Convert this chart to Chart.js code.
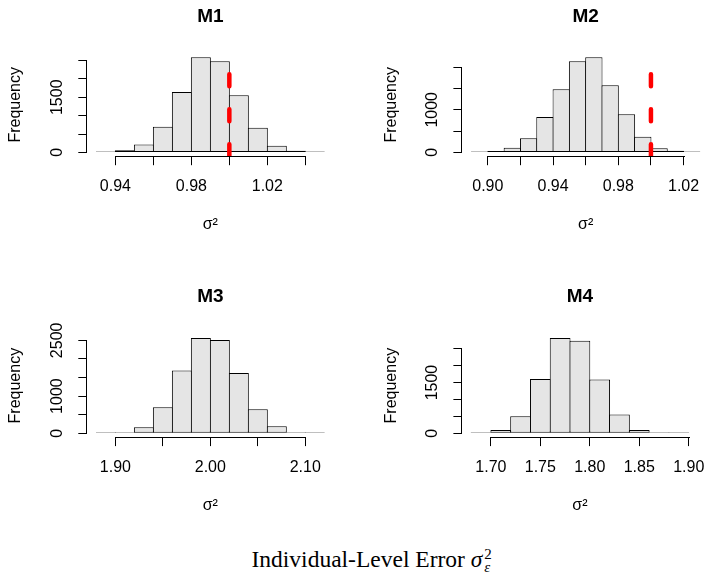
<!DOCTYPE html>
<html>
<head>
<meta charset="utf-8">
<script src="https://cdn.jsdelivr.net/npm/chart.js@4.4.1/dist/chart.umd.min.js"></script>
<style>
  html, body { margin: 0; padding: 0; background: #fff; }
  body { width: 717px; height: 578px; position: relative; overflow: hidden; }
  canvas { position: absolute; }
  #caption {
    position: absolute; left: 251.5px; top: 547.8px;
    font-family: 'Liberation Serif', 'Times New Roman', serif;
    font-size: 23.5px; line-height: 23.5px; white-space: nowrap; color: #000;
  }
  #caption .sym { font-style: italic; }
  #caption .ss {
    display: inline-flex; flex-direction: column; font-size: 15px; line-height: 13px;
    vertical-align: 8px; margin-left: 2px;
  }
  #caption .ss i { font-style: italic; }
</style>
</head>
<body>
<canvas id="m1" width="358" height="280" style="left:0;top:0"></canvas>
<canvas id="m2" width="342" height="280" style="left:375px;top:0"></canvas>
<canvas id="m3" width="358" height="260" style="left:0;top:280px"></canvas>
<canvas id="m4" width="342" height="260" style="left:375px;top:280px"></canvas>
<div id="caption">Individual-Level Error <span class="sym">σ</span><span class="ss"><span>2</span><i>ε</i></span></div>

<script>
/* Four posterior histograms of the individual-level error variance */

// ── Data ────────────────────────────────────────────────────
const m1Breaks  = [0.93, 0.94, 0.95, 0.96, 0.97, 0.98, 0.99, 1.00, 1.01, 1.02, 1.03, 1.04, 1.05];
const m1Counts  = [5, 55, 218, 700, 1645, 2590, 2482, 1555, 673, 182, 45, 15];
const m1XTicks  = [0.94, 0.96, 0.98, 1.00, 1.02, 1.04];
const m1XLabels = ['0.94', '0.98', '1.02'];
const m1YTicks  = [0, 500, 1000, 1500, 2000, 2500];
const m1YLabels = ['0', '1500'];
const m1TrueVal = [1.00];

const m2Breaks  = [0.89, 0.90, 0.91, 0.92, 0.93, 0.94, 0.95, 0.96, 0.97, 0.98, 0.99, 1.00, 1.01, 1.02, 1.03];
const m2Counts  = [15, 30, 110, 330, 830, 1480, 2140, 2235, 1575, 895, 370, 100, 40, 15];
const m2XTicks  = [0.90, 0.92, 0.94, 0.96, 0.98, 1.00, 1.02];
const m2XLabels = ['0.90', '0.94', '0.98', '1.02'];
const m2YTicks  = [0, 500, 1000, 1500, 2000];
const m2YLabels = ['0', '1000'];
const m2TrueVal = [1.00];

const m3Breaks  = [1.88, 1.90, 1.92, 1.94, 1.96, 1.98, 2.00, 2.02, 2.04, 2.06, 2.08, 2.10, 2.12];
const m3Counts  = [3, 18, 162, 700, 1690, 2563, 2509, 1619, 647, 189, 27, 9];
const m3XTicks  = [1.90, 1.95, 2.00, 2.05, 2.10];
const m3XLabels = ['1.90', '2.00', '2.10'];
const m3YTicks  = [0, 500, 1000, 1500, 2000, 2500];
const m3YLabels = ['0', '1000', '2500'];
const m3TrueVal = [];

const m4Breaks  = [1.68, 1.70, 1.72, 1.74, 1.76, 1.78, 1.80, 1.82, 1.84, 1.86, 1.88, 1.90];
const m4Counts  = [20, 99, 504, 1601, 2816, 2737, 1591, 553, 99, 30, 10];
const m4XTicks  = [1.70, 1.75, 1.80, 1.85, 1.90];
const m4XLabels = ['1.70', '1.75', '1.80', '1.85', '1.90'];
const m4YTicks  = [0, 500, 1000, 1500, 2000, 2500];
const m4YLabels = ['0', '1500'];
const m4TrueVal = [];

// ── Layout (page pixels) ────────────────────────────────────
const Y_AXIS_W   = 87.3;   // room left of the plot box inside each canvas
const X_AXIS_H   = 77.6;   // room below the plot box (ticks, labels, σ²)
const TITLE_GAP  = 37;     // title centre above plot top
const FONT       = "'Liberation Sans', Arial, sans-serif";

Chart.defaults.font.family = FONT;
Chart.defaults.color = '#000';

function histogram(id, title, canvasBox, plotBox, breaks, counts, xTicks, xLabels, yTicks, yLabels, trueVal) {
  const lo = breaks[0], hi = breaks[breaks.length - 1];
  const xPad = (hi - lo) * 0.04;
  const top = Math.max(...counts);
  const xMin = lo - xPad, xMax = hi + xPad;
  const yMin = -0.04 * top, yMax = 1.04 * top;

  // plot box relative to its canvas
  const l = plotBox.left - canvasBox.x, r = plotBox.right - canvasBox.x;
  const t = plotBox.top - canvasBox.y,  b = plotBox.bottom - canvasBox.y;
  const titleLH = 19 * 1.2;
  const titlePadTop = t - TITLE_GAP - titleLH / 2;
  const titlePadBottom = t - titleLH - titlePadTop;

  // bars overlap 1px so neighbours share a single outline like R's rect()
  const binPx = (r - l) / (xMax - xMin) * (breaks[1] - breaks[0]);

  const bars = counts.map((c, i) => ({ x: (breaks[i] + breaks[i + 1]) / 2, y: c }));

  const rAxes = {
    id: 'rAxes_' + id,
    afterDatasetsDraw(chart) {
      const { ctx, chartArea: a } = chart;
      const xs = chart.scales.x;
      ctx.save();
      ctx.beginPath();
      ctx.rect(a.left, a.top, a.right - a.left, a.bottom - a.top);
      ctx.clip();
      ctx.strokeStyle = '#FF0000';
      ctx.lineWidth = 4.5;
      ctx.lineCap = 'round';
      ctx.setLineDash([12, 23]);
      trueVal.forEach(v => {
        const px = xs.getPixelForValue(v);
        ctx.beginPath();
        ctx.moveTo(px, a.bottom);
        ctx.lineTo(px, a.top);
        ctx.stroke();
      });
      ctx.restore();
    },
    afterDraw(chart) {
      const { ctx, chartArea: a } = chart;
      const xs = chart.scales.x, ys = chart.scales.y;
      ctx.save();
      ctx.strokeStyle = '#000';
      ctx.lineWidth = 1;
      // R style axis lines: only between first and last tick
      const yb = Math.round(a.bottom) + 0.5;
      ctx.beginPath();
      ctx.moveTo(Math.round(xs.getPixelForValue(xTicks[0])), yb);
      ctx.lineTo(Math.round(xs.getPixelForValue(xTicks[xTicks.length - 1])) + 1, yb);
      const xl = Math.round(a.left) - 0.5;
      ctx.moveTo(xl, Math.round(ys.getPixelForValue(yTicks[yTicks.length - 1])));
      ctx.lineTo(xl, Math.round(ys.getPixelForValue(yTicks[0])) + 1);
      ctx.stroke();
      // rotated y tick labels
      ctx.fillStyle = '#000';
      ctx.font = '16px ' + FONT;
      ctx.textAlign = 'center';
      ctx.textBaseline = 'alphabetic';
      yLabels.forEach(s => {
        ctx.save();
        ctx.translate(a.left - 25, ys.getPixelForValue(Number(s)));
        ctx.rotate(-Math.PI / 2);
        ctx.fillText(s, 0, 0);
        ctx.restore();
      });
      ctx.restore();
    }
  };

  return new Chart(document.getElementById(id), {
    type: 'bar',
    data: {
      datasets: [{
        data: bars,
        backgroundColor: '#E5E5E5',
        borderColor: '#000',
        borderWidth: 1,
        borderSkipped: false,
        categoryPercentage: 1,
        barPercentage: (binPx + 1) / binPx,
        minBarLength: 1,
      }]
    },
    options: {
      responsive: false,
      animation: false,
      devicePixelRatio: 1,
      events: [],
      layout: { padding: { left: l - Y_AXIS_W, top: 0, right: canvasBox.w - r, bottom: canvasBox.h - b - X_AXIS_H } },
      plugins: {
        legend: { display: false },
        tooltip: { enabled: false },
        title: {
          display: true,
          text: title,
          fullSize: false,
          color: '#000',
          font: { family: FONT, size: 19, weight: 'bold' },
          padding: { top: titlePadTop, bottom: titlePadBottom },
        },
      },
      scales: {
        x: {
          type: 'linear',
          min: xMin,
          max: xMax,
          offset: false,
          afterBuildTicks: s => { s.ticks = xTicks.map(v => ({ value: v })); },
          afterFit: s => { s.height = X_AXIS_H; },
          border: { display: false },
          grid: { offset: false, drawOnChartArea: false, drawTicks: true, tickLength: 9, color: '#000', tickColor: '#000' },
          ticks: {
            autoSkip: false, maxRotation: 0, minRotation: 0, padding: 12,
            font: { size: 16 }, color: '#000',
            callback: v => { const s = Number(v).toFixed(2); return xLabels.includes(s) ? s : ''; },
          },
          title: { display: true, text: 'σ²', color: '#000', font: { size: 16 }, padding: { top: 0, bottom: 0 } },
        },
        y: {
          type: 'linear',
          min: yMin,
          max: yMax,
          afterBuildTicks: s => { s.ticks = yTicks.map(v => ({ value: v })); },
          afterFit: s => { s.width = Y_AXIS_W; },
          border: { display: false },
          grid: { drawOnChartArea: false, drawTicks: true, tickLength: 9, color: '#000', tickColor: '#000' },
          ticks: { display: false, autoSkip: false },
          title: { display: true, text: 'Frequency', color: '#000', font: { size: 16 }, padding: { top: 6.4, bottom: 0 } },
        },
      },
    },
    plugins: [rAxes],
  });
}

// ── Boot ────────────────────────────────────────────────────
histogram('m1', 'M1', { x: 0,   y: 0,   w: 358, h: 280 }, { left: 87.3,  top: 53.4,  right: 333.4, bottom: 156.2 },
  m1Breaks, m1Counts, m1XTicks, m1XLabels, m1YTicks, m1YLabels, m1TrueVal);
histogram('m2', 'M2', { x: 375, y: 0,   w: 342, h: 280 }, { left: 462.4, top: 53.4,  right: 709,   bottom: 156.2 },
  m2Breaks, m2Counts, m2XTicks, m2XLabels, m2YTicks, m2YLabels, m2TrueVal);
histogram('m3', 'M3', { x: 0,   y: 280, w: 358, h: 260 }, { left: 87.3,  top: 334.2, right: 333.4, bottom: 437.1 },
  m3Breaks, m3Counts, m3XTicks, m3XLabels, m3YTicks, m3YLabels, m3TrueVal);
histogram('m4', 'M4', { x: 375, y: 280, w: 342, h: 260 }, { left: 462.4, top: 334.2, right: 709,   bottom: 437.1 },
  m4Breaks, m4Counts, m4XTicks, m4XLabels, m4YTicks, m4YLabels, m4TrueVal);
</script>
</body>
</html>
